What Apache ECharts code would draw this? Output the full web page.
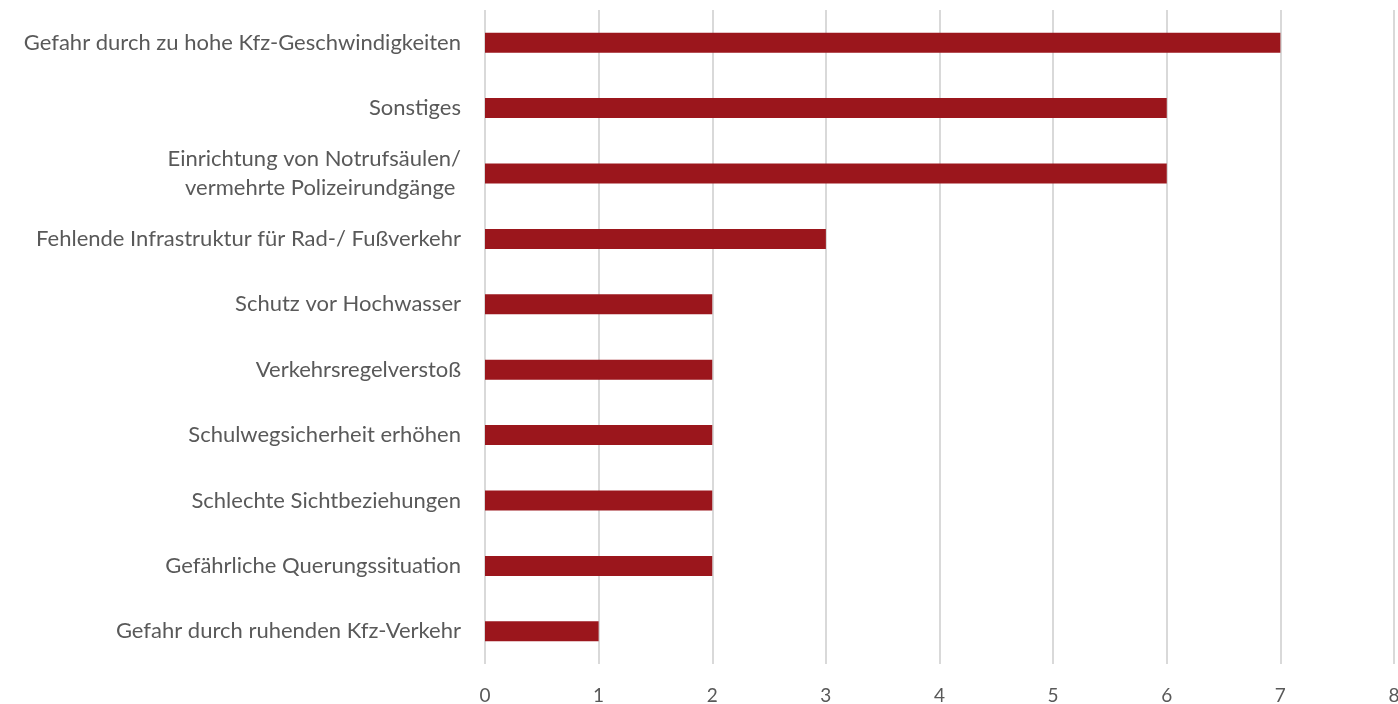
<!DOCTYPE html>
<html>
<head>
<meta charset="utf-8">
<script src="https://cdn.jsdelivr.net/npm/echarts@6/dist/echarts.min.js"></script>
<style>html,body{margin:0;padding:0;background:#fff;overflow:hidden}#c{width:1398px;height:704px}</style>
</head>
<body>
<div id="c"></div>
<script>
const categories = [
  "Gefahr durch zu hohe Kfz-Geschwindigkeiten",
  "Sonstiges",
  "Einrichtung von Notrufsäulen/\nvermehrte Polizeirundgänge ",
  "Fehlende Infrastruktur für Rad-/ Fußverkehr",
  "Schutz vor Hochwasser",
  "Verkehrsregelverstoß",
  "Schulwegsicherheit erhöhen",
  "Schlechte Sichtbeziehungen",
  "Gefährliche Querungssituation",
  "Gefahr durch ruhenden Kfz-Verkehr"
];
const values = [7, 6, 6, 3, 2, 2, 2, 2, 2, 1];
const xTicks = [0, 1, 2, 3, 4, 5, 6, 7, 8];

const chart = echarts.init(document.getElementById('c'));
chart.setOption({
  animation: false,
  grid: { left: 485, right: 4, top: 10, bottom: 40, containLabel: false, outerBoundsMode: 'none' },
  xAxis: {
    type: 'value', min: xTicks[0], max: xTicks[xTicks.length - 1], interval: 1,
    axisLine: { show: false }, axisTick: { show: false },
    splitLine: { show: true, lineStyle: { color: '#d9d9d9', width: 2 } },
    axisLabel: { color: '#595959', fontSize: 19, fontFamily: 'Lato', margin: 22 }
  },
  yAxis: {
    type: 'category', data: categories, inverse: true,
    axisLine: { show: false }, axisTick: { show: false },
    axisLabel: { color: '#595959', fontSize: 22, fontFamily: 'Lato', margin: 24, lineHeight: 29, align: 'right' }
  },
  series: [{
    type: 'bar', data: values, barWidth: 20,
    itemStyle: { color: '#9b161c' }
  }]
});
</script>
</body>
</html>
